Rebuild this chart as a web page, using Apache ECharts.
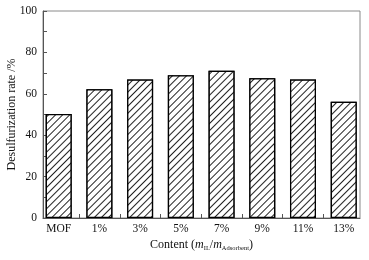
<!DOCTYPE html>
<html>
<head>
<meta charset="utf-8">
<script src="https://cdn.jsdelivr.net/npm/echarts@6/dist/echarts.min.js"></script>
<style>
	html, body { margin: 0; padding: 0; background: #fff; }
	#chart { width: 369px; height: 260px; }
</style>
</head>
<body>
<div id="chart"></div>
<script>
// 数据
var categories = ['MOF', '1%', '3%', '5%', '7%', '9%', '11%', '13%'];
var rates = [50.3, 62.2, 66.9, 69.0, 71.1, 67.5, 66.9, 56.2];
var yTicks = [0, 20, 40, 60, 80, 100];

var myChart = echarts.init(document.getElementById('chart'));

var barData = rates.map(function (v, i) {
	return [i, v];
});
var labelPos = categories.map(function (c, i) { return i; });
var tickPos = categories.slice(1).map(function (c, i) { return i + 0.5; });

var fontFamily = '"Liberation Serif", "Times New Roman", serif';

myChart.setOption({
	animation: false,
	grid: {
		left: 43,
		right: 9,
		top: 11,
		bottom: 42,
		containLabel: false,
		outerBoundsMode: 'none',
		show: true,
		borderColor: '#8a8a8a',
		borderWidth: 1
	},
	xAxis: {
		type: 'value',
		min: -0.385,
		max: 7.4,
		splitLine: { show: false },
		axisLine: { show: true, onZero: false, lineStyle: { color: '#555', width: 1 } },
		axisTick: {
			show: true,
			inside: true,
			length: 4,
			customValues: tickPos,
			lineStyle: { color: '#555' }
		},
		axisLabel: {
			customValues: labelPos,
			color: '#111',
			fontFamily: fontFamily,
			fontSize: 11.5,
			margin: 5,
			formatter: function (v) {
				return categories[Math.round(v)];
			}
		},
		name: '{t|Content (}{i|m}{s|IL}{t|/}{i|m}{s|Adsorbent}{t|)}',
		nameLocation: 'middle',
		nameGap: 20,
		nameMoveOverlap: false,
		nameTextStyle: {
			rich: {
				t: { fontFamily: fontFamily, fontSize: 12, color: '#111' },
				i: { fontFamily: fontFamily, fontSize: 12, fontStyle: 'italic', color: '#111' },
				s: { fontFamily: fontFamily, fontSize: 6.5, color: '#111', padding: [7, 0, 0, 0] }
			}
		}
	},
	yAxis: {
		type: 'value',
		min: 0,
		max: 100,
		interval: 20,
		splitLine: { show: false },
		axisLine: { show: true, onZero: false, lineStyle: { color: '#555', width: 1 } },
		axisTick: { show: true, inside: true, length: 4, lineStyle: { color: '#555' } },
		minorTick: { show: true, splitNumber: 2, length: 4, lineStyle: { color: '#555' } },
		axisLabel: {
			color: '#111',
			fontFamily: fontFamily,
			fontSize: 11.5,
			margin: 6,
			customValues: yTicks
		},
		name: 'Desulfurization rate /%',
		nameLocation: 'middle',
		nameGap: 25,
		nameMoveOverlap: false,
		nameTextStyle: { fontFamily: fontFamily, fontSize: 12, color: '#111' }
	},
	series: [
		{
			type: 'bar',
			data: barData,
			barWidth: 26,
			itemStyle: {
				color: '#fff',
				borderColor: '#000',
				borderWidth: 1.3,
				decal: {
					symbol: 'rect',
					symbolSize: 1,
					dashArrayX: [1, 0],
					dashArrayY: [1, 4],
					rotation: -Math.PI / 4,
					color: '#222',
					backgroundColor: '#fff'
				}
			}
		}
	]
});
</script>
</body>
</html>
